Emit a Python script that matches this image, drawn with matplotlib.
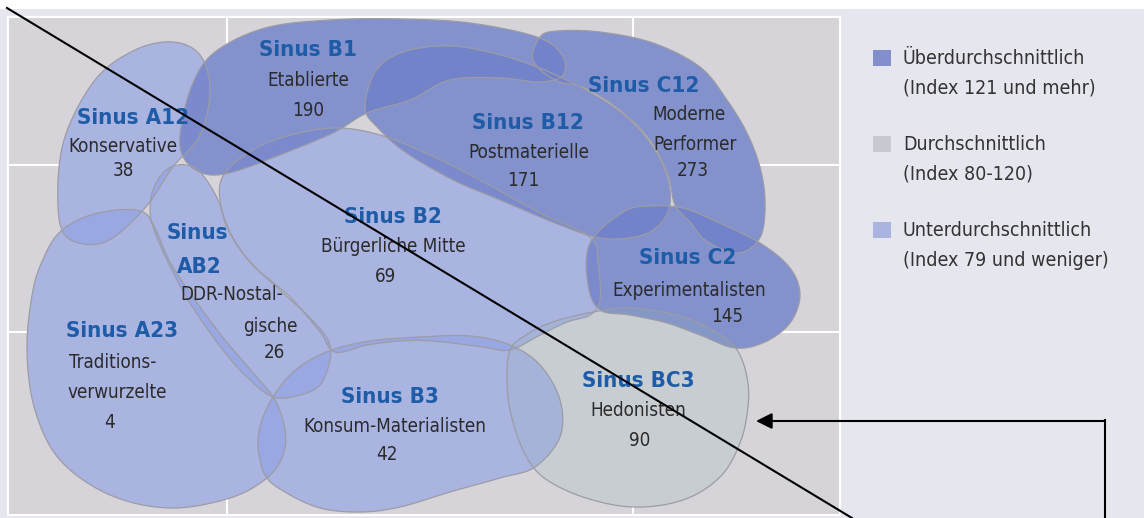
import numpy as np
import matplotlib.pyplot as plt
from matplotlib.patches import Polygon, Rectangle

# ---------------------------
# Data
# ---------------------------

codes = ["Sinus A12", "Sinus B1", "Sinus B12", "Sinus C12", "Sinus A23",
         "Sinus AB2", "Sinus B2", "Sinus C2", "Sinus B3", "Sinus BC3"]
names = ["Konservative", "Etablierte", "Postmaterielle", "Moderne\nPerformer",
         "Traditions-\nverwurzelte", "DDR-Nostal-\ngische", "Bürgerliche Mitte",
         "Experimentalisten", "Konsum-Materialisten", "Hedonisten"]
index_values = [38, 190, 171, 273, 4, 26, 69, 145, 42, 90]

legend_labels = ["Überdurchschnittlich\n(Index 121 und mehr)",
                 "Durchschnittlich\n(Index 80-120)",
                 "Unterdurchschnittlich\n(Index 79 und weniger)"]

# ---------------------------
# Layout (pixel space, y down)
# ---------------------------

outlines = {
    "Sinus A12": [(173, 42), (200, 55), (210, 90), (200, 135), (172, 168), (145, 208),
                  (105, 242), (68, 238), (58, 205), (64, 140), (95, 80), (135, 50)],
    "Sinus B1": [(180, 135), (192, 85), (215, 52), (265, 28), (330, 20), (400, 19),
                 (470, 23), (537, 37), (562, 55), (563, 75), (540, 82), (500, 78),
                 (450, 80), (410, 100), (367, 113), (333, 133), (280, 155), (233, 172),
                 (205, 174), (185, 160)],
    "Sinus B12": [(365, 108), (375, 72), (400, 53), (440, 46), (480, 50), (537, 67),
                  (600, 98), (640, 130), (665, 170), (670, 205), (657, 227), (635, 237),
                  (600, 238), (560, 225), (500, 200), (453, 180), (405, 152), (378, 128)],
    "Sinus C12": [(540, 37), (557, 31), (600, 32), (653, 43), (700, 67), (727, 100),
                  (747, 133), (760, 167), (765, 200), (762, 233), (748, 250), (730, 252),
                  (705, 240), (690, 222), (675, 205), (668, 175), (650, 140), (620, 110),
                  (585, 88), (555, 80), (533, 60)],
    "Sinus A23": [(60, 232), (85, 217), (117, 210), (143, 212), (155, 228), (170, 262),
                  (195, 300), (225, 340), (255, 375), (275, 400), (285, 430), (283, 455),
                  (267, 478), (230, 498), (170, 508), (110, 495), (60, 460), (35, 410),
                  (27, 350), (33, 290), (45, 255)],
    "Sinus AB2": [(177, 165), (163, 173), (153, 190), (150, 210), (153, 227), (167, 260),
                  (190, 303), (223, 350), (247, 377), (273, 397), (300, 395), (320, 385),
                  (330, 360), (328, 340), (310, 318), (280, 290), (250, 262), (230, 232),
                  (218, 200), (205, 178), (193, 167)],
    "Sinus B2": [(222, 178), (245, 155), (280, 138), (333, 128), (380, 135), (430, 155),
                 (480, 180), (540, 213), (590, 237), (598, 262), (600, 300), (590, 315),
                 (567, 322), (540, 335), (510, 350), (483, 347), (433, 341), (400, 341),
                 (367, 345), (335, 352), (320, 332), (290, 297), (255, 267), (232, 237),
                 (221, 207)],
    "Sinus C2": [(590, 243), (623, 212), (650, 206), (683, 208), (713, 220), (760, 243),
                 (790, 268), (800, 295), (790, 323), (765, 342), (735, 348), (700, 335),
                 (667, 323), (630, 315), (600, 310), (588, 285)],
    "Sinus B3": [(273, 397), (290, 375), (310, 360), (335, 349), (370, 341), (420, 337),
                 (470, 336), (510, 345), (540, 365), (560, 400), (560, 437), (535, 467),
                 (500, 478), (450, 492), (400, 507), (360, 512), (320, 508), (285, 492),
                 (265, 475), (258, 445), (262, 420)],
    "Sinus BC3": [(510, 350), (523, 337), (550, 323), (593, 312), (633, 308), (683, 317),
                  (717, 333), (737, 350), (747, 377), (748, 407), (740, 443), (720, 477),
                  (683, 500), (633, 507), (583, 497), (543, 477), (523, 450), (510, 410),
                  (507, 377)],
}

title_pos = {
    "Sinus A12": [(133, 118)], "Sinus B1": [(308, 50)], "Sinus B12": [(528, 123)],
    "Sinus C12": [(644, 86)], "Sinus A23": [(122, 331)], "Sinus AB2": [(197, 233), (199, 267)],
    "Sinus B2": [(393, 217)], "Sinus C2": [(688, 258)], "Sinus B3": [(390, 397)],
    "Sinus BC3": [(638, 381)],
}
name_pos = {
    "Sinus A12": [(123, 146)], "Sinus B1": [(308, 80)], "Sinus B12": [(529, 153)],
    "Sinus C12": [(689, 114), (695, 144)], "Sinus A23": [(113, 362), (117, 392)],
    "Sinus AB2": [(232, 295), (270, 326)], "Sinus B2": [(393, 247)],
    "Sinus C2": [(689, 291)], "Sinus B3": [(395, 427)], "Sinus BC3": [(638, 411)],
}
value_pos = {
    "Sinus A12": (123, 171), "Sinus B1": (308, 110), "Sinus B12": (523, 181),
    "Sinus C12": (693, 171), "Sinus A23": (110, 423), "Sinus AB2": (274, 352),
    "Sinus B2": (386, 277), "Sinus C2": (727, 316), "Sinus B3": (387, 455),
    "Sinus BC3": (640, 441),
}

PANEL = "#d6d4d9"
# fill colour (with alpha) per index class, plus solid swatch for legend
FILL = {"high": ((111/255, 128/255, 201/255), 0.8),
        "mid": ((144/255, 177/255, 182/255), 0.2),
        "low": ((142/255, 160/255, 229/255), 0.6)}
SWATCH = {"high": "#828fcc", "mid": "#c6cace", "low": "#abb4e1"}
DRAW_ORDER = {"low": 0, "high": 1, "mid": 2}

FONT = ["DejaVu Sans"]
STRETCH = "condensed"
BLUE = "#1f5ca8"
DARK = "#2b2b2b"


def classify(v):
    if v >= 121:
        return "high"
    if v >= 80:
        return "mid"
    return "low"


def smooth_closed(pts, n=24):
    """Closed Catmull-Rom curve through the control points."""
    P = np.array(pts, float)
    N = len(P)
    t = np.linspace(0, 1, n, endpoint=False)[:, None]
    out = []
    for i in range(N):
        p0, p1, p2, p3 = P[i - 1], P[i], P[(i + 1) % N], P[(i + 2) % N]
        out.append(0.5 * (2 * p1 + (-p0 + p2) * t
                          + (2 * p0 - 5 * p1 + 4 * p2 - p3) * t ** 2
                          + (-p0 + 3 * p1 - 3 * p2 + p3) * t ** 3))
    return np.vstack(out)


# ---------------------------
# Figure
# ---------------------------

fig = plt.figure(figsize=(11.44, 5.18), dpi=100)
fig.patch.set_facecolor("#e6e6ef")
ax = fig.add_axes([0, 0, 1, 1])
ax.set_xlim(0, 1144)
ax.set_ylim(518, 0)
ax.axis("off")

# white strip on top
ax.add_patch(Rectangle((0, 0), 1144, 9, facecolor="white", edgecolor="none", zorder=0.1))

# grey panel with white grid (kept below the blobs)
ax.add_patch(Rectangle((8, 17), 832, 498, facecolor=PANEL, edgecolor="white", lw=1.5,
                       zorder=0.2))
for gx in [227, 633]:
    ax.plot([gx, gx], [17, 515], color="white", lw=1.5, zorder=0.3)
for gy in [165, 332]:
    ax.plot([8, 840], [gy, gy], color="white", lw=1.5, zorder=0.3)

# blobs: opaque base hides the grid, then translucent fills
order = sorted(range(len(codes)), key=lambda i: DRAW_ORDER[classify(index_values[i])])
shapes = {c: smooth_closed(outlines[c]) for c in codes}
for i in order:
    ax.add_patch(Polygon(shapes[codes[i]], closed=True, facecolor=PANEL, edgecolor="none",
                         zorder=1))
for i in order:
    col, a = FILL[classify(index_values[i])]
    ax.add_patch(Polygon(shapes[codes[i]], closed=True, facecolor=(*col, a), edgecolor="none",
                         zorder=1.1))
for i in order:
    ax.add_patch(Polygon(shapes[codes[i]], closed=True, facecolor="none",
                         edgecolor="#9c9ca6", lw=0.9, zorder=1.2))

# labels
for i, code in enumerate(codes):
    title_lines = ["Sinus", "AB2"] if code == "Sinus AB2" else [code]
    for line, (x, y) in zip(title_lines, title_pos[code]):
        ax.text(x, y, line, ha="center", va="center", fontsize=16, fontweight="bold",
                color=BLUE, family=FONT, fontstretch=STRETCH, zorder=3)
    for line, (x, y) in zip(names[i].split("\n"), name_pos[code]):
        ax.text(x, y, line, ha="center", va="center", fontsize=13.5, color=DARK,
                family=FONT, fontstretch=STRETCH, zorder=3)
    x, y = value_pos[code]
    ax.text(x, y, str(index_values[i]), ha="center", va="center", fontsize=13.5,
            color=DARK, family=FONT, fontstretch=STRETCH, zorder=3)

# legend
for k, (cls, lab) in enumerate(zip(["high", "mid", "low"], legend_labels)):
    y0 = 50 + k * 86
    ax.add_patch(Rectangle((873, y0), 18, 16, facecolor=SWATCH[cls], edgecolor="none"))
    l1, l2 = lab.split("\n")
    ax.text(903, y0 + 9, l1, ha="left", va="center", fontsize=14, color="#333333",
            family=FONT, fontstretch=STRETCH)
    ax.text(903, y0 + 38, l2, ha="left", va="center", fontsize=14, color="#333333",
            family=FONT, fontstretch=STRETCH)

# overlay markup: diagonal line and arrow
ax.plot([7, 852], [8, 518], color="black", lw=1.5, zorder=5)
ax.annotate("", xy=(756, 421), xytext=(1105, 421), zorder=5,
            arrowprops=dict(arrowstyle="-|>", color="black", lw=1.5,
                            mutation_scale=24, shrinkA=0, shrinkB=0))
ax.plot([1105, 1105], [420, 518], color="black", lw=1.5, zorder=5)

fig.savefig("out.png", dpi=100, facecolor=fig.get_facecolor())
